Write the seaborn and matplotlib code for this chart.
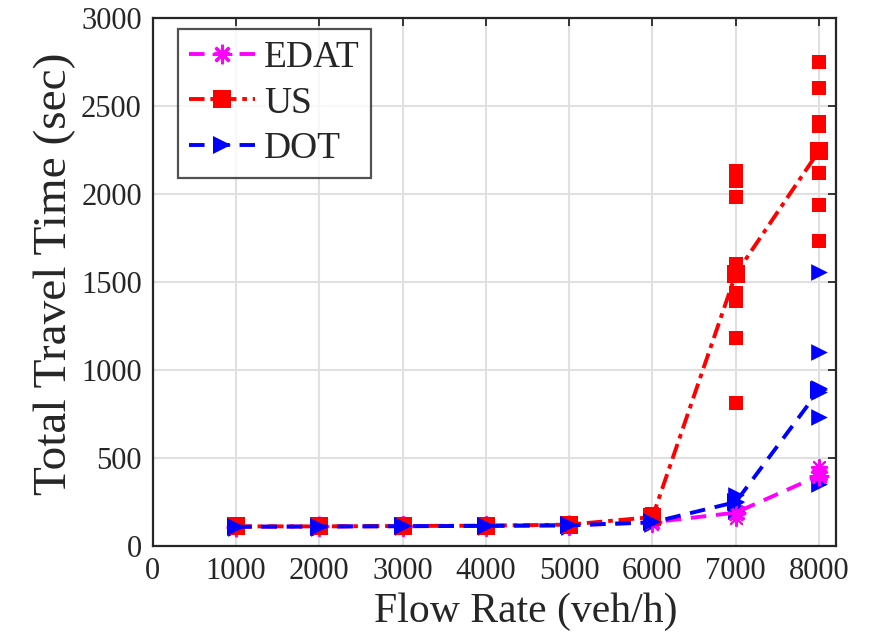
import numpy as np
import pandas as pd
import matplotlib
matplotlib.use("Agg")
import matplotlib.pyplot as plt
import seaborn as sns

# ---- data ----
flow = [1000, 2000, 3000, 4000, 5000, 6000, 7000, 8000]
edat_mean = [110, 112, 113, 115, 118, 135, 190, 400]
us_mean = [112, 112, 114, 116, 122, 165, 1545, 2245]
dot_mean = [110, 111, 113, 115, 118, 135, 250, 885]

low_flows = [1000, 2000, 3000, 4000, 5000, 6000]
edat_low = [[100, 110, 120], [102, 112, 122], [103, 113, 123], [105, 115, 125], [108, 118, 128], [125, 135, 145]]
us_low = [[105, 112, 118], [105, 112, 118], [107, 114, 120], [110, 116, 122], [115, 122, 130], [150, 165, 185]]
dot_low = [[103, 110, 117], [104, 111, 118], [106, 113, 120], [108, 115, 122], [111, 118, 125], [125, 135, 145]]

us_7000 = [2130, 2100, 2075, 1980, 1600, 1560, 1440, 1390, 1180, 810]
us_8000 = [2750, 2600, 2410, 2385, 2250, 2120, 1935, 1730]
dot_7000 = [290, 250, 220, 200]
dot_8000 = [1555, 1105, 895, 875, 735, 350]
edat_7000 = [220, 200, 180, 160]
edat_8000 = [450, 420, 400, 380]

names = ["EDAT", "US", "DOT"]
colors = {"EDAT": "#ff00ff", "US": "#ff0000", "DOT": "#0000ff"}
markers = {"EDAT": (8, 2, 0), "US": "s", "DOT": ">"}
linestyles = {"EDAT": (0, (4, 2.5)), "US": (0, (4, 1.5, 1.2, 1.5)), "DOT": (0, (4, 2.5))}

means = {"EDAT": edat_mean, "US": us_mean, "DOT": dot_mean}
lows = {"EDAT": edat_low, "US": us_low, "DOT": dot_low}
highs = {"EDAT": (edat_7000, edat_8000), "US": (us_7000, us_8000), "DOT": (dot_7000, dot_8000)}

rows = []
for n in names:
    for f, vals in zip(low_flows, lows[n]):
        for v in vals:
            rows.append((n, f, v))
    for v in highs[n][0]:
        rows.append((n, 7000, v))
    for v in highs[n][1]:
        rows.append((n, 8000, v))
pts = pd.DataFrame(rows, columns=["method", "flow", "time"])

sns.set_style("white")
plt.rcParams["font.family"] = ["Liberation Serif", "DejaVu Serif"]

fig = plt.figure(figsize=(8.89, 6.35), dpi=100)
ax = fig.add_axes([0.172, 0.140, 0.768, 0.832])

for n in names:
    sub = pts[pts.method == n]
    ms = {"EDAT": 11, "US": 9.5, "DOT": 12}[n]
    sns.scatterplot(data=sub, x="flow", y="time", ax=ax, color=colors[n],
                    marker=markers[n], s=ms ** 2, linewidth=1.5 if n == "EDAT" else 0,
                    edgecolor=colors[n], legend=False, zorder=3)
    mdf = pd.DataFrame({"flow": flow, "time": means[n]})
    sns.lineplot(data=mdf, x="flow", y="time", ax=ax, color=colors[n],
                 linewidth=2.8, linestyle=linestyles[n], marker=markers[n],
                 markersize=13 if n != "EDAT" else 14, markeredgewidth=2 if n == "EDAT" else 0,
                 markeredgecolor=colors[n], estimator=None, label=n, zorder=4)

ax.set_xlim(0, 8200)
ax.set_ylim(0, 3000)
ax.set_xticks(range(0, 8001, 1000))
ax.set_yticks(range(0, 3001, 500))
ax.grid(True, color="#e0e0e0", linewidth=1.5)
ax.set_axisbelow(True)
ax.tick_params(direction="in", length=6, width=1.3, labelsize=22, colors="#262626",
               top=True, right=True, pad=8)
for lab in ax.get_xticklabels() + ax.get_yticklabels():
    lab.set_color("#262626")
for s in ax.spines.values():
    s.set_color("#262626")
    s.set_linewidth(1.6)
    s.set_visible(True)

ax.set_xlabel("Flow Rate (veh/h)", fontsize=30)
ax.set_ylabel("Total Travel Time (sec)", fontsize=34)
ax.xaxis.set_label_coords(0.546, -0.088)
ax.yaxis.set_label_coords(-0.113, 0.515)

leg = ax.legend(loc="upper left", fontsize=27, frameon=True, fancybox=False,
                edgecolor="#262626", handlelength=1.75, handletextpad=0.25,
                borderpad=0.3, labelspacing=0.3, borderaxespad=0.3,
                bbox_to_anchor=(0.02, 1.0))
leg.get_frame().set_linewidth(1.6)

fig.savefig("out.png", dpi=100)
